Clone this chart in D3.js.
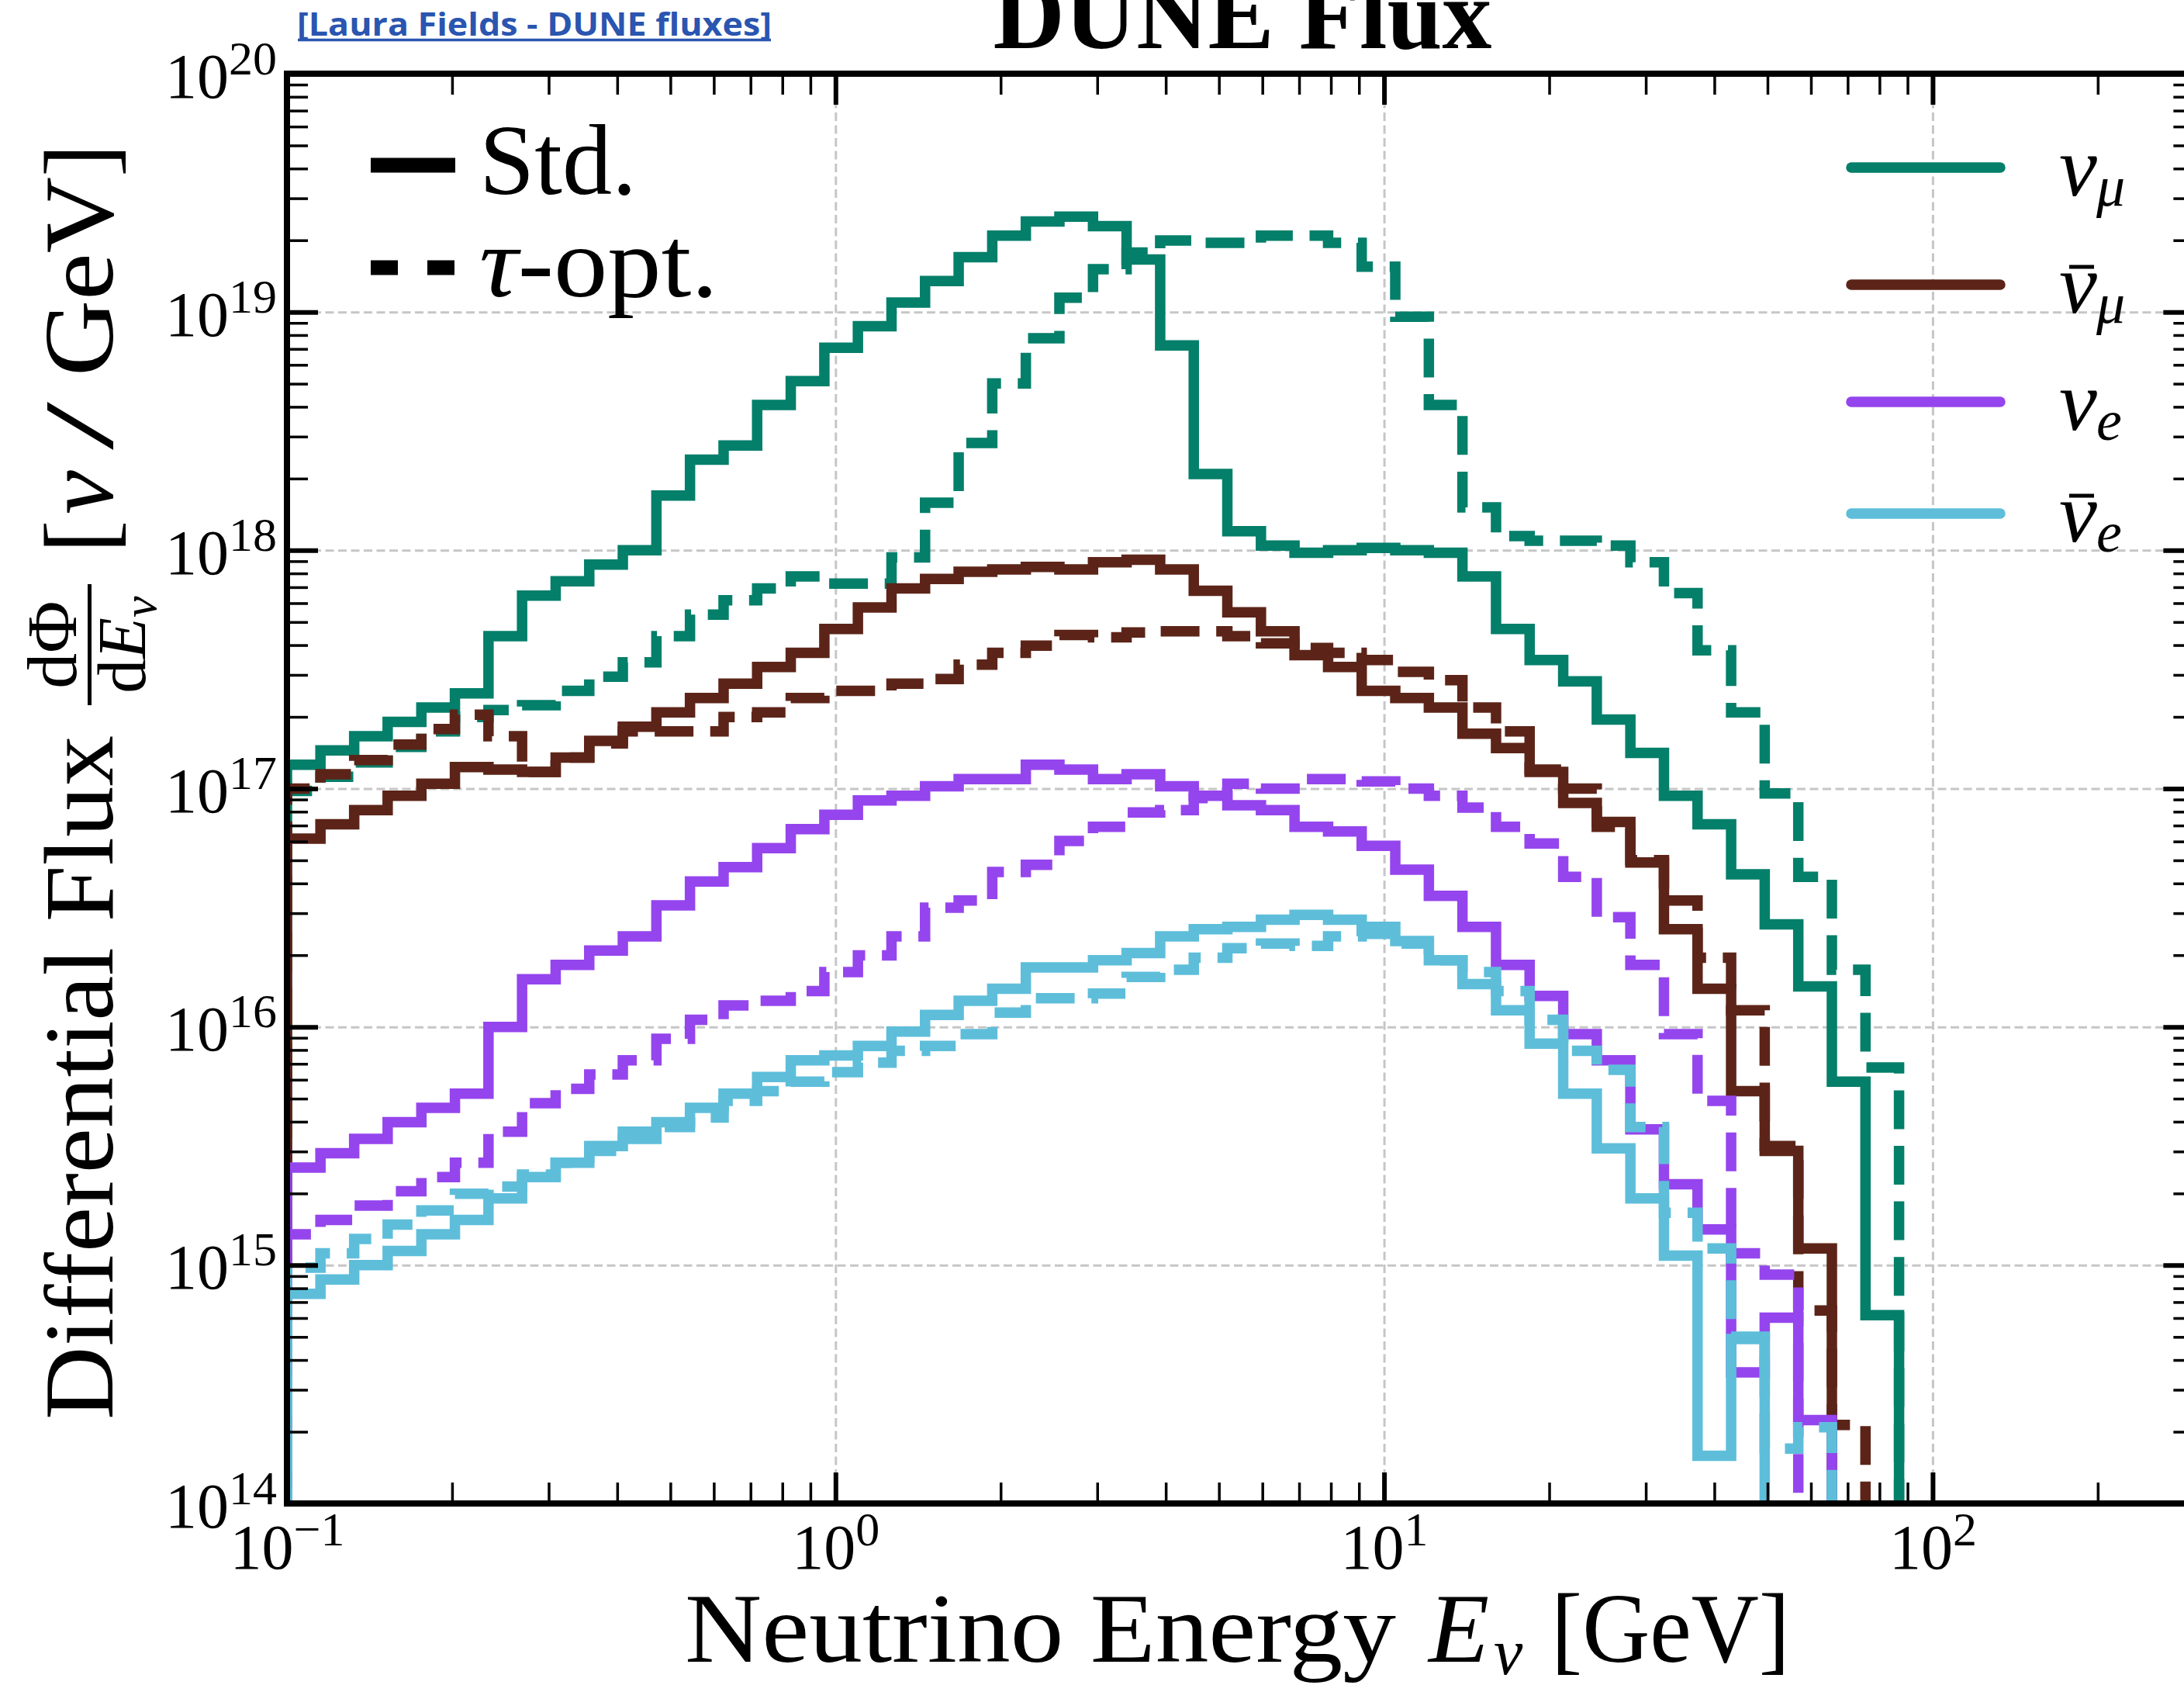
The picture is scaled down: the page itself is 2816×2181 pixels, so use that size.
<!DOCTYPE html>
<html lang="en">
<head>
<meta charset="UTF-8">
<title>DUNE Flux</title>
<script src="https://cdn.jsdelivr.net/npm/d3@7"></script>
<style>
  body { margin: 0; background: #fff; }
  text { font-family: "Liberation Serif", "DejaVu Serif", serif; }
</style>
</head>
<body>
<svg id="chart" width="2816" height="2181"></svg>
<script>
// bin edges in GeV (log-uniform)
const binEdges = [0.1, 0.1151, 0.1326, 0.1526, 0.1758, 0.2024, 0.2330, 0.2683, 0.3089, 0.3557,
  0.4095, 0.4715, 0.5429, 0.6251, 0.7197, 0.8287, 0.9542, 1.0985, 1.2649, 1.4563,
  1.6768, 1.9307, 2.2230, 2.5595, 2.9471, 3.3932, 3.9069, 4.4984, 5.1795, 5.9636,
  6.8665, 7.9060, 9.1030, 10.481, 12.068, 13.895, 15.999, 18.421, 21.210, 24.421,
  28.118, 32.375, 37.276, 42.919, 49.417, 56.899, 65.513, 75.431, 86.851, 100];

// log10 of the flux in each bin (bins past the end of an array are empty)
const numuStd = [17.10, 17.16, 17.22, 17.28, 17.34, 17.40, 17.64, 17.81, 17.87, 17.94,
  18.00, 18.23, 18.38, 18.44, 18.61, 18.71, 18.85, 18.94, 19.04, 19.13,
  19.23, 19.32, 19.38, 19.40, 19.36, 19.22, 18.86, 18.32, 18.08, 18.02,
  17.99, 18.00, 18.01, 18.00, 17.99, 17.89, 17.67, 17.54, 17.45, 17.29,
  17.15, 16.97, 16.85, 16.64, 16.43, 16.17, 15.77, 14.79];
const numuTau = [16.99, 17.05, 17.11, 17.175, 17.24, 17.30, 17.33, 17.35, 17.41, 17.47,
  17.53, 17.64, 17.73, 17.79, 17.84, 17.89, 17.86, 17.86, 17.97, 18.20,
  18.45, 18.70, 18.89, 19.06, 19.18, 19.25, 19.30, 19.29, 19.29, 19.32,
  19.32, 19.29, 19.19, 18.98, 18.61, 18.18, 18.06, 18.04, 18.04, 18.02,
  17.95, 17.82, 17.58, 17.32, 16.98, 16.63, 16.24, 15.83];
const numubarStd = [16.79, 16.85, 16.91, 16.97, 17.02, 17.09, 17.08, 17.07, 17.13, 17.20,
  17.26, 17.32, 17.38, 17.44, 17.51, 17.57, 17.67, 17.76, 17.84, 17.88,
  17.91, 17.92, 17.93, 17.92, 17.95, 17.96, 17.92, 17.83, 17.74, 17.66,
  17.56, 17.51, 17.41, 17.38, 17.34, 17.23, 17.17, 17.07, 16.94, 16.86,
  16.69, 16.41, 16.16, 15.73, 15.48, 15.07];
const numubarTau = [17.00, 17.06, 17.12, 17.185, 17.25, 17.31, 17.22, 17.07, 17.13, 17.19,
  17.24, 17.24, 17.24, 17.30, 17.32, 17.38, 17.41, 17.41, 17.44, 17.46,
  17.52, 17.57, 17.60, 17.645, 17.635, 17.655, 17.66, 17.66, 17.64, 17.61,
  17.59, 17.57, 17.54, 17.49, 17.455, 17.34, 17.24, 17.08, 17.00, 16.84,
  16.70, 16.53, 16.29, 16.07, 15.50, 14.81, 14.33];
const nueStd = [15.41, 15.47, 15.53, 15.60, 15.66, 15.72, 16.00, 16.20, 16.26, 16.32,
  16.38, 16.51, 16.61, 16.67, 16.75, 16.83, 16.89, 16.95, 16.97, 17.01,
  17.04, 17.04, 17.10, 17.08, 17.04, 17.06, 17.01, 16.97, 16.93, 16.91,
  16.84, 16.82, 16.76, 16.66, 16.55, 16.42, 16.26, 16.13, 15.97, 15.86,
  15.57, 15.34, 15.15, 14.55, 14.78, 14.35];
const nueTau = [15.13, 15.19, 15.25, 15.31, 15.37, 15.43, 15.56, 15.68, 15.74, 15.80,
  15.86, 15.95, 16.03, 16.09, 16.11, 16.15, 16.23, 16.30, 16.38, 16.50,
  16.53, 16.65, 16.68, 16.78, 16.84, 16.90, 16.91, 16.96, 17.02, 17.00,
  17.04, 17.04, 17.03, 17.00, 16.97, 16.92, 16.84, 16.77, 16.63, 16.46,
  16.26, 15.97, 15.69, 15.05, 14.96];
const nuebarStd = [14.88, 14.94, 15.00, 15.06, 15.13, 15.19, 15.28, 15.37, 15.43, 15.50,
  15.56, 15.60, 15.66, 15.72, 15.79, 15.86, 15.88, 15.92, 15.98, 16.05,
  16.11, 16.16, 16.25, 16.25, 16.28, 16.31, 16.38, 16.41, 16.42, 16.45,
  16.47, 16.45, 16.42, 16.36, 16.28, 16.18, 16.07, 15.93, 15.72, 15.49,
  15.28, 15.04, 14.20, 14.69];
const nuebarTau = [14.99, 15.05, 15.11, 15.17, 15.23, 15.30, 15.33, 15.38, 15.43, 15.48,
  15.53, 15.58, 15.62, 15.69, 15.73, 15.77, 15.81, 15.85, 15.90, 15.92,
  15.97, 16.06, 16.12, 16.12, 16.14, 16.21, 16.24, 16.29, 16.33, 16.35,
  16.34, 16.38, 16.39, 16.35, 16.28, 16.23, 16.15, 16.03, 15.90, 15.82,
  15.58, 15.22, 15.07, 14.70, 14.23, 14.32];

const flavourColors = ["#047f6a", "#5c2418", "#9545ed", "#5ebeda"];
const xTicks = [0.1, 1, 10, 100];
const yTicks = [1e14, 1e15, 1e16, 1e17, 1e18, 1e19, 1e20];

const series = [
  { vals: numuStd, color: flavourColors[0], dashed: false },
  { vals: numuTau, color: flavourColors[0], dashed: true },
  { vals: numubarStd, color: flavourColors[1], dashed: false },
  { vals: numubarTau, color: flavourColors[1], dashed: true },
  { vals: nueStd, color: flavourColors[2], dashed: false },
  { vals: nueTau, color: flavourColors[2], dashed: true },
  { vals: nuebarStd, color: flavourColors[3], dashed: false },
  { vals: nuebarTau, color: flavourColors[3], dashed: true }
];

const pL = 370, pT = 95, pB = 1938;
const pR = pL + 707.3 * Math.log10(300 / 0.1);
const svg = d3.select("#chart");

const x = d3.scaleLog().domain([0.1, 300]).range([pL, pR]);
const y = d3.scaleLog().domain([1e14, 1e20]).range([pB, pT]);

const minorX = x.ticks().filter(d => !xTicks.some(t => Math.abs(t - d) / t < 1e-6));
const minorY = y.ticks().filter(d => !yTicks.some(t => Math.abs(t - d) / t < 1e-6));

svg.append("defs").append("clipPath").attr("id", "plot")
  .append("rect").attr("x", pL).attr("y", pT)
  .attr("width", pR - pL).attr("height", pB - pT);

// grid
const gridStyle = g => {
  g.attr("font-size", null).attr("font-family", null);
  g.select(".domain").remove();
  g.selectAll("line").attr("stroke", "#c6c6c6").attr("stroke-width", 3)
    .attr("stroke-dasharray", "11 5.5");
};
svg.append("g").attr("transform", `translate(0,${pB})`)
  .call(d3.axisBottom(x).tickValues(xTicks.slice(1)).tickSize(-(pB - pT)).tickFormat(""))
  .call(gridStyle);
svg.append("g").attr("transform", `translate(${pL},0)`)
  .call(d3.axisLeft(y).tickValues(yTicks.slice(1, -1)).tickSize(-(pR - pL)).tickFormat(""))
  .call(gridStyle);

// histograms
function stepPath(vals) {
  const pts = [[x(binEdges[0]), pB + 30]];
  vals.forEach((v, i) => {
    pts.push([x(binEdges[i]), y(Math.pow(10, v))]);
    pts.push([x(binEdges[i + 1]), y(Math.pow(10, v))]);
  });
  pts.push([x(binEdges[vals.length]), pB + 30]);
  return d3.line()(pts);
}
svg.append("g").attr("clip-path", "url(#plot)")
  .selectAll("path").data(series).join("path")
  .attr("d", d => stepPath(d.vals))
  .attr("fill", "none")
  .attr("stroke", d => d.color)
  .attr("stroke-width", 13.5)
  .attr("stroke-linejoin", "miter")
  .attr("stroke-dasharray", d => d.dashed ? "50 21.6" : null);

// axes with inward ticks
function tickStyle(g, w) {
  g.attr("font-size", null).attr("font-family", null);
  g.select(".domain").remove();
  g.selectAll("line").attr("stroke", "#000").attr("stroke-width", w);
}
function expLabel(sel) {
  sel.each(function (d) {
    const e = Math.round(Math.log10(d));
    const t = d3.select(this).text("10").attr("font-size", 82).attr("fill", "#000");
    t.append("tspan").attr("font-size", 62).attr("dy", -30)
      .text(e < 0 ? "\u2212" + (-e) : String(e));
  });
}

const xb = svg.append("g").attr("transform", `translate(0,${pB})`)
  .call(d3.axisBottom(x).tickValues(xTicks).tickSize(-40).tickPadding(0));
tickStyle(xb, 6);
xb.selectAll("text").attr("y", 84).attr("dy", null).call(expLabel);
svg.append("g").attr("transform", `translate(0,${pB})`)
  .call(d3.axisBottom(x).tickValues(minorX).tickSize(-27).tickFormat(""))
  .call(tickStyle, 3.5);

svg.append("g").attr("transform", `translate(0,${pT})`)
  .call(d3.axisTop(x).tickValues(xTicks).tickSize(-40).tickFormat(""))
  .call(tickStyle, 6);
svg.append("g").attr("transform", `translate(0,${pT})`)
  .call(d3.axisTop(x).tickValues(minorX).tickSize(-27).tickFormat(""))
  .call(tickStyle, 3.5);

const yl = svg.append("g").attr("transform", `translate(${pL},0)`)
  .call(d3.axisLeft(y).tickValues(yTicks).tickSize(-40).tickPadding(13));
tickStyle(yl, 6);
yl.selectAll("text").attr("x", -13).attr("y", 30).attr("dy", null).call(expLabel);
svg.append("g").attr("transform", `translate(${pL},0)`)
  .call(d3.axisLeft(y).tickValues(minorY).tickSize(-27).tickFormat(""))
  .call(tickStyle, 3.5);

svg.append("g").attr("transform", `translate(${pR},0)`)
  .call(d3.axisRight(y).tickValues(yTicks).tickSize(-40).tickFormat(""))
  .call(tickStyle, 6);
svg.append("g").attr("transform", `translate(${pR},0)`)
  .call(d3.axisRight(y).tickValues(minorY).tickSize(-27).tickFormat(""))
  .call(tickStyle, 3.5);

// spines
svg.append("rect").attr("x", pL).attr("y", pT)
  .attr("width", pR - pL).attr("height", pB - pT)
  .attr("fill", "none").attr("stroke", "#000").attr("stroke-width", 8);

// title (cut by the top edge, as in the source figure) and source link
svg.append("text").attr("x", 1602).attr("y", 62).attr("text-anchor", "middle")
  .attr("font-size", 130).attr("font-weight", "bold")
  .attr("textLength", 643).attr("lengthAdjust", "spacingAndGlyphs")
  .text("DUNE Flux");
svg.append("text").attr("x", 383).attr("y", 46)
  .style("font-family", "'Open Sans', sans-serif")
  .attr("font-size", 42).attr("font-weight", "bold").attr("fill", "#2a55b0")
  .attr("textLength", 612).attr("lengthAdjust", "spacingAndGlyphs")
  .text("[Laura Fields - DUNE fluxes]");
svg.append("line").attr("x1", 384).attr("x2", 994).attr("y1", 51.5).attr("y2", 51.5)
  .attr("stroke", "#2a55b0").attr("stroke-width", 3.5);

// x label
const xlab = svg.append("g").attr("font-size", 128);
xlab.append("text").attr("x", 883).attr("y", 2142)
  .attr("textLength", 917).attr("lengthAdjust", "spacingAndGlyphs").text("Neutrino Energy");
xlab.append("text").attr("x", 1842).attr("y", 2142).attr("font-style", "italic").text("E");
xlab.append("text").attr("x", 1926).attr("y", 2158).attr("font-size", 84)
  .attr("font-style", "italic").text("\u03bd");
xlab.append("text").attr("x", 2000).attr("y", 2142)
  .attr("textLength", 308).attr("lengthAdjust", "spacingAndGlyphs").text("[GeV]");

// y label (rotated)
const ylab = svg.append("g").attr("transform", "rotate(-90)").attr("font-size", 128);
ylab.append("text").attr("x", -1830).attr("y", 145)
  .attr("textLength", 882).attr("lengthAdjust", "spacingAndGlyphs").text("Differential Flux");
ylab.append("text").attr("x", -831).attr("y", 98).attr("font-size", 92)
  .attr("text-anchor", "middle").text("d\u03a6");
ylab.append("line").attr("x1", -909).attr("x2", -753).attr("y1", 115.5).attr("y2", 115.5)
  .attr("stroke", "#000").attr("stroke-width", 5);
const den = ylab.append("text").attr("x", -831).attr("y", 187).attr("font-size", 88)
  .attr("text-anchor", "middle").text("d");
den.append("tspan").attr("font-style", "italic").text("E");
den.append("tspan").attr("font-style", "italic").attr("font-size", 62).attr("dy", 14).text("\u03bd");
ylab.append("text").attr("x", -713).attr("y", 145).text("[");
ylab.append("text").attr("x", -663).attr("y", 145).attr("font-style", "italic").text("\u03bd");
ylab.append("text").attr("x", -580).attr("y", 145)
  .attr("textLength", 62).attr("lengthAdjust", "spacingAndGlyphs").text("/");
ylab.append("text").attr("x", -485).attr("y", 145)
  .attr("textLength", 257).attr("lengthAdjust", "spacingAndGlyphs").text("GeV");
ylab.append("text").attr("x", -228).attr("y", 145).text("]");

// legend: line styles
const styleLegend = [
  { label: "Std.", dash: null, y: 213, len: 203 },
  { label: "-opt.", dash: "35 38", y: 345, len: 308 }
];
styleLegend.forEach((d, i) => {
  svg.append("line").attr("x1", 478).attr("x2", 587).attr("y1", d.y).attr("y2", d.y)
    .attr("stroke", "#000").attr("stroke-width", 19).attr("stroke-dasharray", d.dash);
  const t = svg.append("text").attr("x", 618).attr("y", d.y + 37).attr("font-size", 130)
    .attr("textLength", d.len).attr("lengthAdjust", "spacingAndGlyphs");
  if (i === 1) t.append("tspan").attr("font-style", "italic").text("\u03c4");
  t.append("tspan").text(d.label);
});

// legend: flavours
const flavourLegend = [
  { sub: "\u03bc", bar: false, y: 216 },
  { sub: "\u03bc", bar: true, y: 367 },
  { sub: "e", bar: false, y: 518 },
  { sub: "e", bar: true, y: 662 }
];
flavourLegend.forEach((d, i) => {
  svg.append("line").attr("x1", 2387).attr("x2", 2579).attr("y1", d.y).attr("y2", d.y)
    .attr("stroke", flavourColors[i]).attr("stroke-width", 13.5).attr("stroke-linecap", "round");
  const t = svg.append("text").attr("x", 2655).attr("y", d.y + 36)
    .attr("font-size", 110).attr("font-style", "italic");
  t.append("tspan").text("\u03bd");
  t.append("tspan").attr("x", 2703).attr("dy", 13).attr("font-size", 74).text(d.sub);
  if (d.bar) {
    svg.append("line").attr("x1", 2668).attr("x2", 2700).attr("y1", d.y - 23).attr("y2", d.y - 23)
      .attr("stroke", "#000").attr("stroke-width", 5);
  }
});
</script>
</body>
</html>
